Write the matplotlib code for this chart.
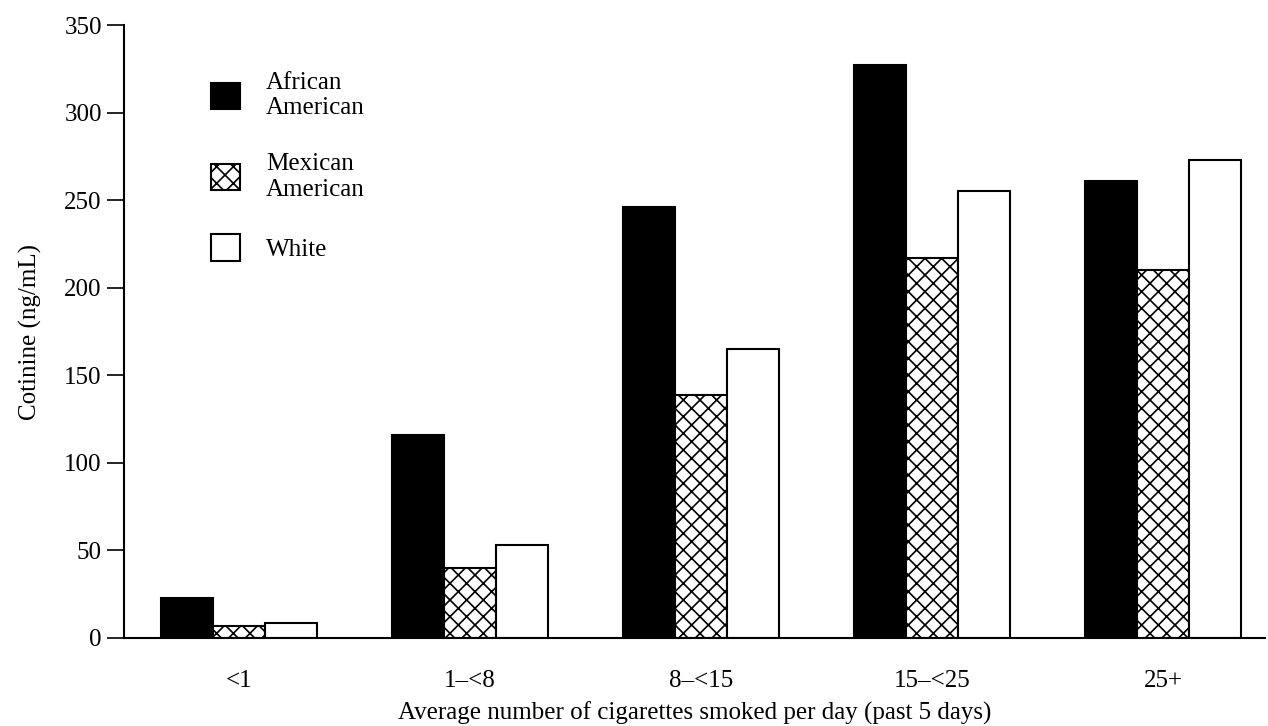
import numpy as np
import matplotlib
matplotlib.use("Agg")
import matplotlib.pyplot as plt

plt.rcParams['font.family'] = ['Liberation Serif', 'DejaVu Serif']
plt.rcParams['hatch.linewidth'] = 1.2

# data
categories = ['<1', '1\u2013<8', '8\u2013<15', '15\u2013<25', '25+']
african_american = [23, 116, 246, 327, 261]
mexican_american = [7, 40, 139, 217, 210]
white = [8.5, 53, 165, 255, 273]
yticks = [0, 50, 100, 150, 200, 250, 300, 350]

fs = 18

fig = plt.figure(figsize=(12.68, 7.26), dpi=100)
ax = fig.add_axes([124/1268, 1 - 638/726, (1265 - 124)/1268, (638 - 25)/726])

x = np.arange(len(categories))
w = 0.225
ax.bar(x - w, african_american, w, color='black', edgecolor='black', linewidth=1.5,
       label='African\nAmerican')
ax.bar(x, mexican_american, w, color='white', edgecolor='black', linewidth=1.5,
       hatch='xx', label='Mexican\nAmerican')
ax.bar(x + w, white, w, color='white', edgecolor='black', linewidth=1.5, label='White')

ax.set_xlim(-0.498, 4.44)
ax.set_ylim(0, 350)
ax.set_yticks(yticks)
ax.set_xticks(x)
ax.set_xticklabels(categories)
ax.tick_params(axis='x', length=0, pad=23, labelsize=fs)
ax.tick_params(axis='y', length=12, width=1.2, pad=4, labelsize=fs)
for s in ['top', 'right']:
    ax.spines[s].set_visible(False)
ax.spines['left'].set_linewidth(1.5)
ax.spines['bottom'].set_linewidth(1.5)

ax.set_ylabel('Cotinine (ng/mL)', fontsize=fs, labelpad=16)
ax.set_xlabel('Average number of cigarettes smoked per day (past 5 days)', fontsize=fs,
              labelpad=7)

leg = ax.legend(loc='upper left', bbox_to_anchor=(211/1268, 1 - 72/726),
                bbox_transform=fig.transFigure, frameon=False, fontsize=fs,
                handlelength=1.16, handleheight=1.25, handletextpad=1.05,
                labelspacing=1.35, borderpad=0, borderaxespad=0)

fig.savefig('out.png', dpi=100)
